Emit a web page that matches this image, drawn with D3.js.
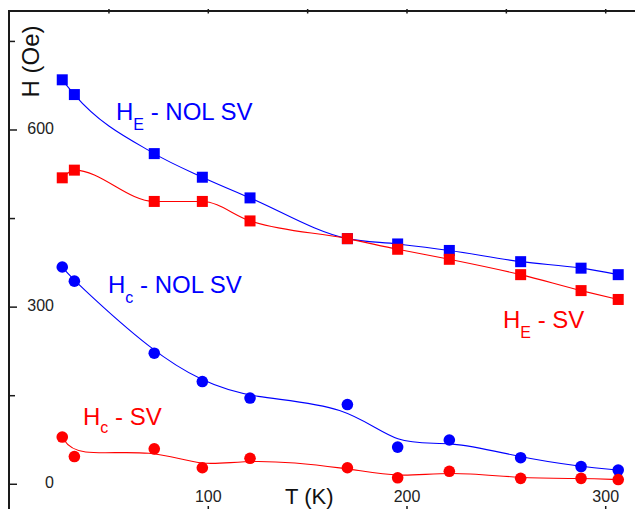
<!DOCTYPE html>
<html>
<head>
<meta charset="utf-8">
<script src="https://cdn.jsdelivr.net/npm/d3@7"></script>
<style>
  html, body { margin: 0; padding: 0; background: #fff; }
  svg { display: block; }
  text { font-family: "Liberation Sans", Arial, Helvetica, sans-serif; }
</style>
</head>
<body>
<div id="chart"></div>
<script>
// ---- Data ----
const temps = [26.5, 32.6, 72.8, 97.0, 121.0, 170.0, 195.3, 221.3, 257.2, 287.6, 306.3];
const heNolSv = [685, 660, 560, 520, 485, 416, 407, 396, 377, 366, 355];
const heSv    = [519, 532, 479, 479, 446, 416, 398, 381, 355, 328, 313];
const hcNolSv = [368, 344, 222, 174, 146, 135, 63, 75, 45, 30, 24];
const hcSv    = [80, 47, 60, 28, 44, 28, 11, 22, 10, 10, 8];

const yTicksMajor = [0, 300, 600];
const yTicksMinor = [150, 450, 750];
const xTicksBottom = [100, 200, 300];
const xTicksTop = [50, 100, 150, 200, 250, 300];

const W = 635, H = 509;
const BLUE = "#0000ff", RED = "#ff0000", AXIS = "#1a1a1a";

const svg = d3.select("#chart").append("svg").attr("width", W).attr("height", H);

const x = d3.scaleLinear().domain([0, 300]).range([9.6, 605.7]);
const y = d3.scaleLinear().domain([-50, 800]).range([513.8, 11.9]);

const xLeft = 9, yTop = 11, yBottom = 515;

// ---- Curves ----
function rows(vals) { return temps.map((t, i) => [t, vals[i]]); }
const line = d3.line().x(d => x(d[0])).y(d => y(d[1])).curve(d3.curveBasis);
const lineSq = d3.line().x(d => x(d[0])).y(d => y(d[1])).curve(d3.curveMonotoneX);

const series = [
  { vals: heNolSv, color: BLUE, shape: "sq", gen: lineSq },
  { vals: hcNolSv, color: BLUE, shape: "ci", gen: line },
  { vals: heSv, color: RED, shape: "sq", gen: lineSq },
  { vals: hcSv, color: RED, shape: "ci", gen: line }
];

series.forEach(s => {
  svg.append("path").attr("d", s.gen(rows(s.vals)))
    .attr("fill", "none").attr("stroke", s.color).attr("stroke-width", 1.1);
});

series.forEach(s => {
  const g = svg.append("g").attr("fill", s.color);
  if (s.shape === "sq") {
    g.selectAll("rect").data(rows(s.vals)).join("rect")
      .attr("x", d => x(d[0]) - 5.5).attr("y", d => y(d[1]) - 5.5)
      .attr("width", 11).attr("height", 11);
  } else {
    g.selectAll("circle").data(rows(s.vals)).join("circle")
      .attr("cx", d => x(d[0])).attr("cy", d => y(d[1])).attr("r", 5.8);
  }
});

// ---- Axes ----
svg.append("line").attr("x1", xLeft - 1).attr("x2", W + 5).attr("y1", yTop).attr("y2", yTop)
  .attr("stroke", AXIS).attr("stroke-width", 2);
svg.selectAll(".ttick").data(xTicksTop).join("line")
  .attr("x1", d => x(d)).attr("x2", d => x(d)).attr("y1", yTop - 2).attr("y2", yTop + 2.5)
  .attr("stroke", AXIS).attr("stroke-width", 1.5);

svg.append("line").attr("x1", xLeft).attr("x2", xLeft).attr("y1", yTop).attr("y2", H + 5)
  .attr("stroke", AXIS).attr("stroke-width", 2);
svg.selectAll(".ymaj").data(yTicksMajor).join("line")
  .attr("x1", xLeft).attr("x2", xLeft + 8).attr("y1", d => y(d)).attr("y2", d => y(d))
  .attr("stroke", AXIS).attr("stroke-width", 1.5);
svg.selectAll(".ymin").data(yTicksMinor).join("line")
  .attr("x1", xLeft).attr("x2", xLeft + 6).attr("y1", d => y(d)).attr("y2", d => y(d))
  .attr("stroke", AXIS).attr("stroke-width", 1.5);
svg.selectAll(".ylab").data(yTicksMajor).join("text")
  .attr("x", 54).attr("y", d => y(d) + 4)
  .attr("text-anchor", "end").attr("font-size", 16).attr("fill", "#222")
  .text(d => d);

svg.selectAll(".btick").data(xTicksBottom).join("line")
  .attr("x1", d => x(d)).attr("x2", d => x(d)).attr("y1", 506).attr("y2", yBottom)
  .attr("stroke", AXIS).attr("stroke-width", 1.5);
svg.selectAll(".xlab").data(xTicksBottom).join("text")
  .attr("x", d => x(d)).attr("y", 502)
  .attr("text-anchor", "middle").attr("font-size", 16).attr("fill", "#222")
  .text(d => d);

svg.append("text").attr("x", 285).attr("y", 504).attr("font-size", 22).attr("fill", "#111")
  .text("T (K)");
svg.append("text").attr("transform", "translate(39,61.5) rotate(-90)")
  .attr("text-anchor", "middle").attr("font-size", 24).attr("fill", "#111")
  .text("H (Oe)");

// ---- Series labels ----
function label(xp, yp, sub, rest, color, subDy) {
  const t = svg.append("text").attr("x", xp).attr("y", yp).attr("font-size", 24).attr("fill", color);
  t.append("tspan").text("H");
  t.append("tspan").attr("font-size", 16).attr("dy", subDy).text(sub);
  t.append("tspan").attr("dy", -subDy).text(" - " + rest);
}
label(116, 120, "E", "NOL SV", BLUE, 10);
label(108, 293, "c", "NOL SV", BLUE, 10);
label(83, 425, "c", "SV", RED, 8);
label(503, 328, "E", "SV", RED, 10);
</script>
</body>
</html>
